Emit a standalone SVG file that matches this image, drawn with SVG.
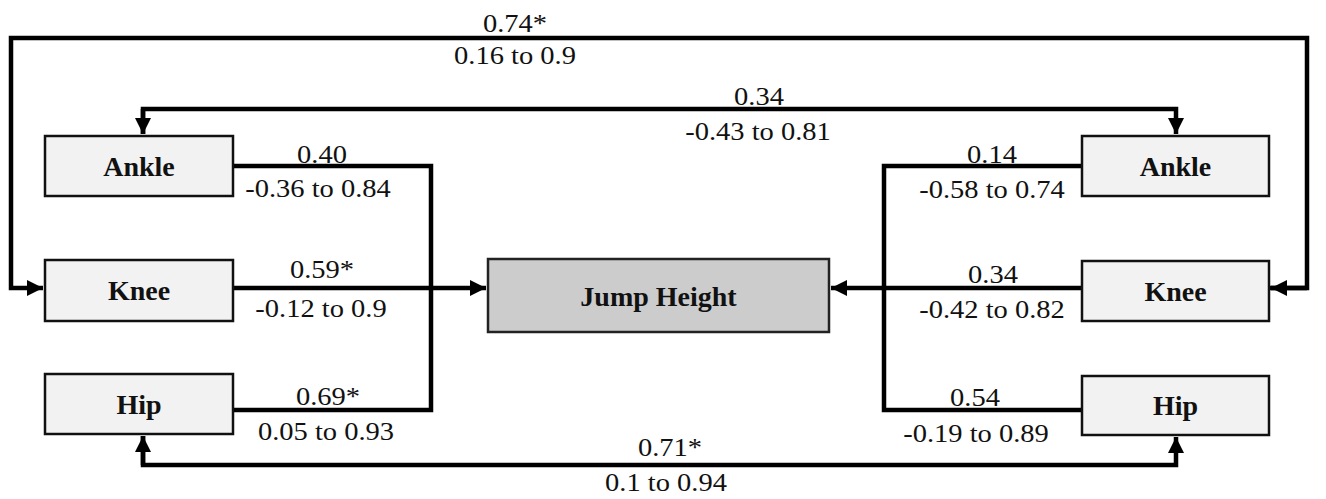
<svg xmlns="http://www.w3.org/2000/svg" width="1326" height="499" viewBox="0 0 1326 499">
<style>
.box{fill:#f2f2f2;stroke:#111;stroke-width:2.5}
.main{fill:#cccccc;stroke:#222;stroke-width:2.5}
.lbl{font-family:'Liberation Serif',serif;font-weight:bold;font-size:28px;fill:#111;text-anchor:middle}
.num{font-family:'Liberation Serif',serif;font-size:25px;fill:#111;text-anchor:middle}
.con{fill:none;stroke:#000;stroke-width:4.5;stroke-linejoin:miter}
</style>
<defs>
<marker id="ah" markerUnits="userSpaceOnUse" markerWidth="18" markerHeight="18" viewBox="0 0 18 18" refX="16" refY="9" orient="auto">
<path d="M0,1 L16,9 L0,17 Z" fill="#000"/>
</marker>
</defs>
<rect width="1326" height="499" fill="#fff"/>
<g id="connectors">
<path class="con" d="M1269,288 H1307 V38 H11 V288 H43" marker-end="url(#ah)"/>
<path class="con" d="M1307,288 H1271" marker-end="url(#ah)"/>
<path class="con" d="M143,134 V109 H1176 V134" marker-end="url(#ah)"/>
<path class="con" d="M143,109 V134" marker-end="url(#ah)"/>
<path class="con" d="M143,436 V465 H1176 V437" marker-end="url(#ah)"/>
<path class="con" d="M143,465 V436" marker-end="url(#ah)"/>
<path class="con" d="M233,166 H431 V410 H233"/>
<path class="con" d="M233,288 H486" marker-end="url(#ah)"/>
<path class="con" d="M1082,166 H884 V410 H1082"/>
<path class="con" d="M1082,288 H831" marker-end="url(#ah)"/>
</g>
<g id="node-jump"><rect class="main" x="488" y="259" width="341" height="73"/><text class="lbl" x="658.5" y="306">Jump Height</text></g>
<g id="node-l-ankle"><rect class="box" x="45" y="136" width="188" height="60"/><text class="lbl" x="139" y="176">Ankle</text></g>
<g id="node-l-knee"><rect class="box" x="45" y="260" width="188" height="61"/><text class="lbl" x="139" y="300">Knee</text></g>
<g id="node-l-hip"><rect class="box" x="45" y="374" width="188" height="60"/><text class="lbl" x="139" y="414">Hip</text></g>
<g id="node-r-ankle"><rect class="box" x="1082" y="136" width="187" height="60"/><text class="lbl" x="1175.5" y="176">Ankle</text></g>
<g id="node-r-knee"><rect class="box" x="1082" y="261" width="187" height="60"/><text class="lbl" x="1175.5" y="301">Knee</text></g>
<g id="node-r-hip"><rect class="box" x="1082" y="376" width="187" height="59"/><text class="lbl" x="1175.5" y="415">Hip</text></g>
<g id="labels">
<text class="num" transform="matrix(1.14 0 0 1 515 32)">0.74*</text>
<text class="num" transform="matrix(1.14 0 0 1 515 64)">0.16 to 0.9</text>
<text class="num" transform="matrix(1.14 0 0 1 759 105)">0.34</text>
<text class="num" transform="matrix(1.14 0 0 1 758 140)">-0.43 to 0.81</text>
<text class="num" transform="matrix(1.14 0 0 1 322 163)">0.40</text>
<text class="num" transform="matrix(1.14 0 0 1 318 197)">-0.36 to 0.84</text>
<text class="num" transform="matrix(1.14 0 0 1 322 278)">0.59*</text>
<text class="num" transform="matrix(1.14 0 0 1 321 317)">-0.12 to 0.9</text>
<text class="num" transform="matrix(1.14 0 0 1 328 405)">0.69*</text>
<text class="num" transform="matrix(1.14 0 0 1 326 440)">0.05 to 0.93</text>
<text class="num" transform="matrix(1.14 0 0 1 992 163)">0.14</text>
<text class="num" transform="matrix(1.14 0 0 1 992 198)">-0.58 to 0.74</text>
<text class="num" transform="matrix(1.14 0 0 1 993 283)">0.34</text>
<text class="num" transform="matrix(1.14 0 0 1 992 318)">-0.42 to 0.82</text>
<text class="num" transform="matrix(1.14 0 0 1 975 406)">0.54</text>
<text class="num" transform="matrix(1.14 0 0 1 976 442)">-0.19 to 0.89</text>
<text class="num" transform="matrix(1.14 0 0 1 670 456)">0.71*</text>
<text class="num" transform="matrix(1.14 0 0 1 666 491)">0.1 to 0.94</text>
</g>
</svg>
